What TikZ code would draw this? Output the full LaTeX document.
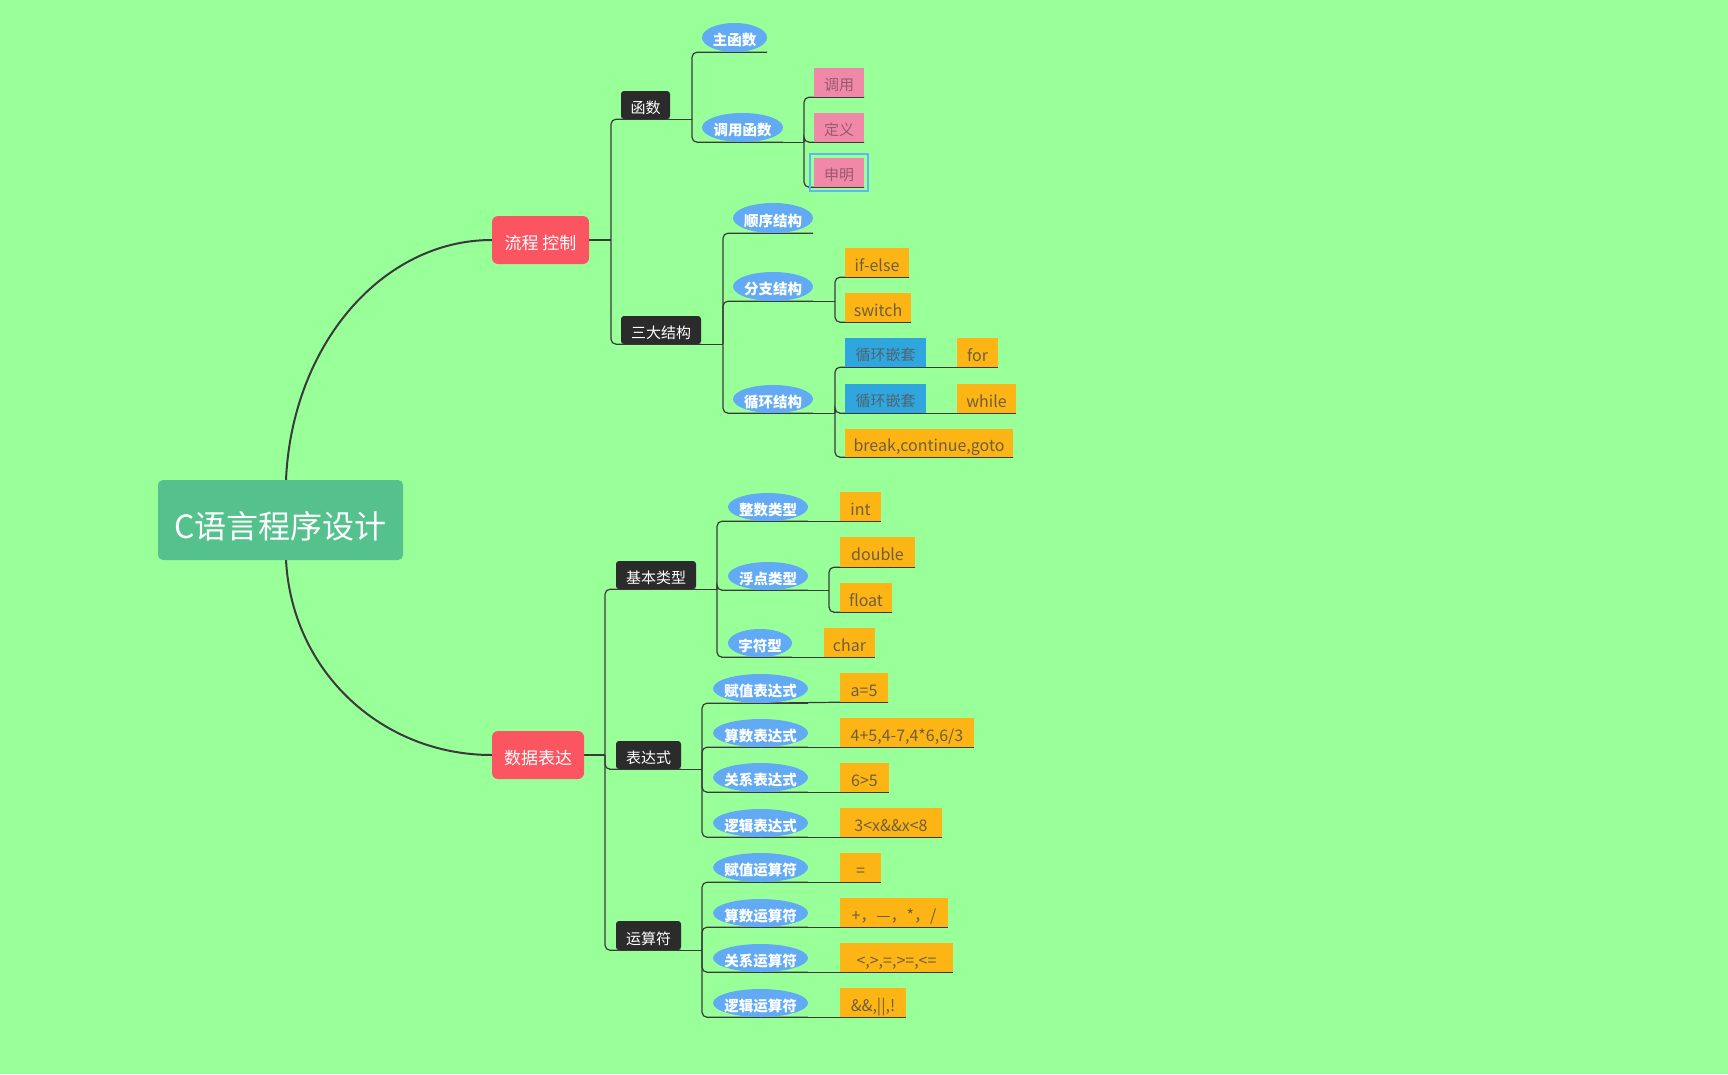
\documentclass[tikz,border=0pt]{standalone}
\usepackage{fontspec}
\setmainfont{Noto Sans CJK SC}
\usetikzlibrary{shapes.geometric,backgrounds}
\definecolor{bg}{HTML}{99FF99}
\definecolor{rootc}{HTML}{55C28E}
\definecolor{redc}{HTML}{FA5560}
\definecolor{darkc}{HTML}{2B2B2B}
\definecolor{ellc}{HTML}{62AAF4}
\definecolor{orc}{HTML}{FDB515}
\definecolor{pkc}{HTML}{F088A8}
\definecolor{blc}{HTML}{30A6DE}
\definecolor{linec}{HTML}{3A3A3A}
\definecolor{ortext}{HTML}{6F5E3E}
\definecolor{pktext}{HTML}{9A5A6E}
\definecolor{bltext}{HTML}{4F6470}
\definecolor{selc}{HTML}{5BB8F2}
\newcommand\mnode[7]{\node[#1, minimum width={#4-#3}, minimum height={#6-#5}] (#2) at ({(#3+#4)/2},{(#5+#6)/2}) {#7};}
\newcommand\stub[2]{\draw[branch] (#1) -- (#1 -| #2);}
\newcommand\br[3]{\draw[branch] (#1 -| #2) |- (#3.south -| #3.west) -- (#3.south -| #3.east);}
\begin{document}
\begin{tikzpicture}[x=1pt,y=-1pt,
  rootbox/.style={fill=rootc, rounded corners=5pt, text=white, inner sep=0pt, text height=36pt, text depth=0pt, font=\fontsize{32}{38}\selectfont},
  lonebox/.style={fill=redc, rounded corners=6pt, text=white, inner sep=0pt, text height=19pt, text depth=0pt, font=\fontsize{17}{20}\selectfont},
  ltwobox/.style={fill=darkc, rounded corners=3pt, text=white, inner sep=0pt, text height=17pt, text depth=0pt, font=\fontsize{15}{18}\selectfont},
  ell/.style={ellipse, fill=ellc, text=white, inner xsep=-8pt, inner ysep=0pt, text height=16pt, text depth=0pt, font=\bfseries\fontsize{14.5}{17}\selectfont},
  leaf/.style={inner sep=0pt, text height=16.5pt, text depth=0pt, font=\fontsize{15}{18}\selectfont},
  orbox/.style={leaf, fill=orc, text=ortext, text height=17pt, font=\fontsize{16}{19}\selectfont},
  pkbox/.style={leaf, fill=pkc, text=pktext},
  blbox/.style={leaf, fill=blc, text=bltext},
  branch/.style={draw=linec, line width=1.2pt, rounded corners=5pt},
  curve/.style={draw=linec, line width=2pt},
  selbox/.style={draw=selc, line width=2pt}]
\useasboundingbox (0,0) rectangle (1728,1074);
% nodes
\mnode{rootbox}{root}{158}{403}{480}{560}{C语言程序设计}
\mnode{lonebox}{lc}{492}{589}{216}{264}{流程 控制}
\mnode{lonebox}{sj}{492}{584}{731}{779}{数据表达}
\mnode{ltwobox}{hs}{621}{670}{91}{119}{函数}
\mnode{ltwobox}{sd}{621}{701}{316}{344}{三大结构}
\mnode{ltwobox}{jb}{616}{696}{561}{589}{基本类型}
\mnode{ltwobox}{bd}{616}{681}{741}{769}{表达式}
\mnode{ltwobox}{ys}{616}{681}{921}{950}{运算符}
\mnode{ell}{zhs}{702}{767}{23}{52}{主函数}
\mnode{ell}{dyhs}{702}{783}{113}{142}{调用函数}
\mnode{ell}{sx}{733}{813}{203}{233}{顺序结构}
\mnode{ell}{fz}{733}{813}{272}{301}{分支结构}
\mnode{ell}{xh}{733}{813}{385}{413}{循环结构}
\mnode{ell}{zs}{728}{808}{493}{521}{整数类型}
\mnode{ell}{fd}{728}{808}{562}{590}{浮点类型}
\mnode{ell}{zf}{728}{792}{629}{657}{字符型}
\mnode{ell}{fzb}{713}{808}{674}{703}{赋值表达式}
\mnode{ell}{ssb}{713}{808}{719}{747}{算数表达式}
\mnode{ell}{gxb}{713}{808}{763}{792}{关系表达式}
\mnode{ell}{ljb}{713}{808}{809}{837}{逻辑表达式}
\mnode{ell}{fzy}{713}{808}{853}{882}{赋值运算符}
\mnode{ell}{ssy}{713}{808}{899}{927}{算数运算符}
\mnode{ell}{gxy}{713}{808}{944}{972}{关系运算符}
\mnode{ell}{ljy}{713}{808}{989}{1017}{逻辑运算符}
\mnode{pkbox}{dy}{814}{864}{68}{97}{调用}
\mnode{pkbox}{dingyi}{814}{864}{113}{142}{定义}
\mnode{pkbox}{sm}{814}{864}{158}{187}{申明}
\mnode{orbox}{ifelse}{845}{909}{248}{277}{if-else}
\mnode{orbox}{switch}{845}{911}{293}{322}{switch}
\mnode{blbox}{qta}{845}{926}{338}{367}{循环嵌套}
\mnode{blbox}{qtb}{845}{926}{384}{413}{循环嵌套}
\mnode{orbox}{brk}{845}{1013}{429}{457}{break,continue,goto}
\mnode{orbox}{nfor}{957}{998}{338}{367}{for}
\mnode{orbox}{nwhile}{957}{1016}{384}{413}{while}
\mnode{orbox}{int}{840}{881}{492}{521}{int}
\mnode{orbox}{double}{840}{915}{537}{567}{double}
\mnode{orbox}{float}{840}{892}{583}{612}{float}
\mnode{orbox}{char}{824}{875}{628}{657}{char}
\mnode{orbox}{afive}{840}{888}{673}{702}{a=5}
\mnode{orbox}{arith}{840}{974}{718}{747}{4+5,4-7,4*6,6/3}
\mnode{orbox}{rel}{840}{889}{763}{792}{6>5}
\mnode{orbox}{logic}{840}{942}{808}{837}{3<x\&\&x<8}
\mnode{orbox}{eq}{840}{881}{853}{882}{=}
\mnode{orbox}{ops}{840}{948}{898}{927}{+，—，*，/}
\mnode{orbox}{relop}{840}{953}{943}{972}{<,>,=,>=,<=}
\mnode{orbox}{logop}{840}{906}{988}{1017}{\&\&,||,!}
\draw[selbox] ([shift={(-4,-4)}]sm.north west) rectangle ([shift={(4,4)}]sm.south east);
% bars
\coordinate (blc) at (611,0);
\coordinate (bhs) at (692,0);
\coordinate (bdy) at (804,0);
\coordinate (bsd) at (723,0);
\coordinate (bfz) at (835,0);
\coordinate (bxh) at (835,0);
\coordinate (bsj) at (605,0);
\coordinate (bjb) at (717,0);
\coordinate (bfd) at (829,0);
\coordinate (bbd) at (702,0);
\coordinate (bys) at (702,0);
\coordinate (rtop) at (286,480);
\coordinate (rbot) at (286,560);
\begin{pgfonlayer}{background}
\fill[bg] (0,0) rectangle (1728,1074);
\draw[curve] (rtop) .. controls (292,345) and (382,240) .. (lc.west);
\draw[curve] (rbot) .. controls (292,672) and (382,755) .. (sj.west);
% flow control
\stub{lc.east}{blc}
\br{lc.east}{blc}{hs}
\br{lc.east}{blc}{sd}
\stub{hs.south east}{bhs}
\br{hs.south east}{bhs}{zhs}
\br{hs.south east}{bhs}{dyhs}
\stub{dyhs.south}{bdy}
\br{dyhs.south}{bdy}{dy}
\br{dyhs.south}{bdy}{dingyi}
\br{dyhs.south}{bdy}{sm}
\stub{sd.south east}{bsd}
\br{sd.south east}{bsd}{sx}
\br{sd.south east}{bsd}{fz}
\br{sd.south east}{bsd}{xh}
\stub{fz.south}{bfz}
\br{fz.south}{bfz}{ifelse}
\br{fz.south}{bfz}{switch}
\stub{xh.south}{bxh}
\br{xh.south}{bxh}{qta}
\br{xh.south}{bxh}{qtb}
\br{xh.south}{bxh}{brk}
\draw[branch] (qta.south east) -- (nfor.south west) -- (nfor.south east);
\draw[branch] (qtb.south east) -- (nwhile.south west) -- (nwhile.south east);
% data
\stub{sj.east}{bsj}
\br{sj.east}{bsj}{jb}
\br{sj.east}{bsj}{bd}
\br{sj.east}{bsj}{ys}
\stub{jb.south east}{bjb}
\br{jb.south east}{bjb}{zs}
\br{jb.south east}{bjb}{fd}
\br{jb.south east}{bjb}{zf}
\draw[branch] (zs.south) -- (int.south west) -- (int.south east);
\stub{fd.south}{bfd}
\br{fd.south}{bfd}{double}
\br{fd.south}{bfd}{float}
\draw[branch] (zf.south) -- (char.south west) -- (char.south east);
\stub{bd.south east}{bbd}
\br{bd.south east}{bbd}{fzb}
\br{bd.south east}{bbd}{ssb}
\br{bd.south east}{bbd}{gxb}
\br{bd.south east}{bbd}{ljb}
\draw[branch] (fzb.south) -- (afive.south west) -- (afive.south east);
\draw[branch] (ssb.south) -- (arith.south west) -- (arith.south east);
\draw[branch] (gxb.south) -- (rel.south west) -- (rel.south east);
\draw[branch] (ljb.south) -- (logic.south west) -- (logic.south east);
\stub{ys.south east}{bys}
\br{ys.south east}{bys}{fzy}
\br{ys.south east}{bys}{ssy}
\br{ys.south east}{bys}{gxy}
\br{ys.south east}{bys}{ljy}
\draw[branch] (fzy.south) -- (eq.south west) -- (eq.south east);
\draw[branch] (ssy.south) -- (ops.south west) -- (ops.south east);
\draw[branch] (gxy.south) -- (relop.south west) -- (relop.south east);
\draw[branch] (ljy.south) -- (logop.south west) -- (logop.south east);
\end{pgfonlayer}
\end{tikzpicture}
\end{document}
